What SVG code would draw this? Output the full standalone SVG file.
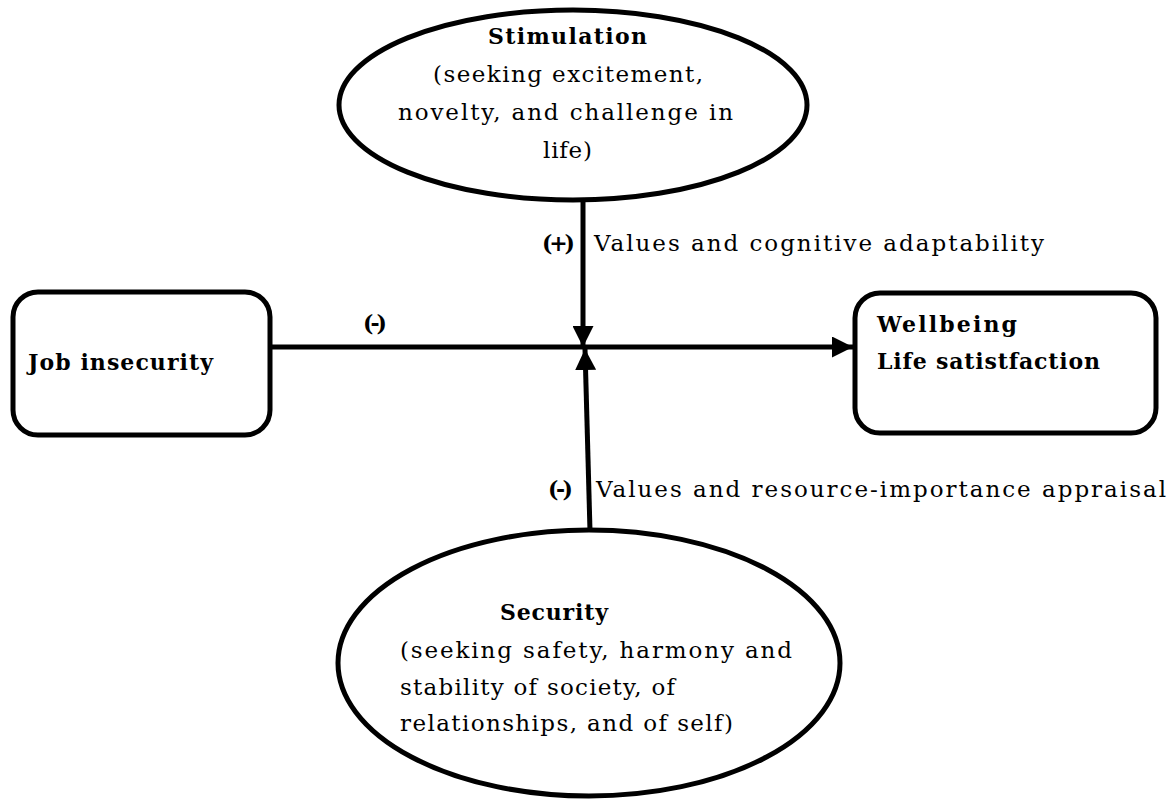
<svg xmlns="http://www.w3.org/2000/svg" width="1176" height="800" viewBox="0 0 1176 800">
<defs>
<style>
.shape{fill:#fff;stroke:#000;stroke-width:5}
.ln{stroke:#000;stroke-width:5;fill:none}
.t{font-family:"DejaVu Serif","Liberation Serif",serif;font-size:23px;fill:#000}
.b{font-weight:bold;font-size:22px}
</style>
<marker id="ah" viewBox="0 0 10 10" refX="10" refY="5" markerWidth="4.2" markerHeight="4.2" markerUnits="strokeWidth" orient="auto">
<path d="M0,0 L10,5 L0,10 z" fill="#000"/>
</marker>
</defs>
<rect width="1176" height="800" fill="#fff"/>
<g id="connectors">
<line class="ln" x1="270" y1="347" x2="853" y2="347" marker-end="url(#ah)"/>
<line class="ln" x1="583" y1="199" x2="583" y2="347" marker-end="url(#ah)"/>
<line class="ln" x1="590" y1="531" x2="585" y2="349" marker-end="url(#ah)"/>
<text class="t b" x="363" y="331" textLength="24">(-)</text>
<text class="t b" x="542" y="251" textLength="33">(+)</text>
<text class="t" x="594" y="251" textLength="450">Values and cognitive adaptability</text>
<text class="t b" x="548" y="497" textLength="25">(-)</text>
<text class="t" x="596" y="497" textLength="570">Values and resource-importance appraisal</text>
</g>
<g id="stimulation">
<ellipse class="shape" cx="573" cy="105" rx="234" ry="95"/>
<text class="t b" x="488" y="44" textLength="159">Stimulation</text>
<text class="t" x="433" y="82" textLength="270">(seeking excitement,</text>
<text class="t" x="398" y="120" textLength="335">novelty, and challenge in</text>
<text class="t" x="543" y="158" textLength="49">life)</text>
</g>
<g id="job-insecurity">
<rect class="shape" x="13" y="292" width="257" height="143" rx="25"/>
<text class="t b" x="28" y="370" textLength="185">Job insecurity</text>
</g>
<g id="wellbeing">
<rect class="shape" x="855" y="293" width="301" height="140" rx="25"/>
<text class="t b" x="877" y="332" textLength="140">Wellbeing</text>
<text class="t b" x="877" y="369" textLength="223">Life satistfaction</text>
</g>
<g id="security">
<ellipse class="shape" cx="589" cy="663" rx="251" ry="133"/>
<text class="t b" x="500" y="620" textLength="108">Security</text>
<text class="t" x="400" y="658" textLength="392">(seeking safety, harmony and</text>
<text class="t" x="400" y="695" textLength="275">stability of society, of</text>
<text class="t" x="400" y="731" textLength="333">relationships, and of self)</text>
</g>
</svg>
